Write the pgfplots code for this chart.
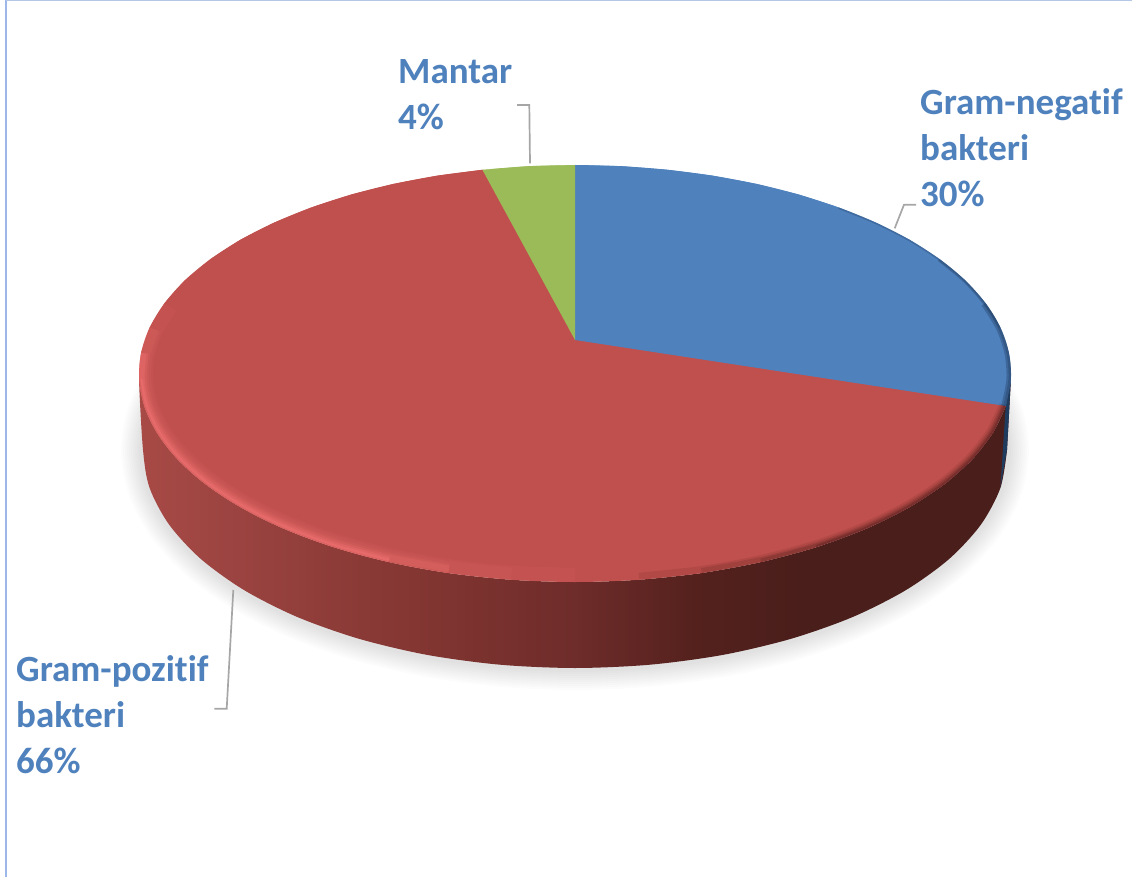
\documentclass[border=0pt]{standalone}
\usepackage{pgfplots}
\usepackage{pgfplotstable}
\usepackage{fontspec}
\pgfplotsset{compat=1.18}
\setmainfont[Ligatures=NoCommon]{Carlito}

\definecolor{sliceblue}{HTML}{4F81BD}
\definecolor{slicered}{HTML}{C0504D}
\definecolor{slicegreen}{HTML}{9BBB59}
\definecolor{labelblue}{HTML}{4F81BD}
\definecolor{leader}{HTML}{A6A6A6}
\definecolor{rimlight}{HTML}{F87878}
\definecolor{rimdark}{HTML}{3A1412}
\definecolor{rimblue}{HTML}{1F3B5E}
\definecolor{frameleft}{HTML}{9DB7EA}
\definecolor{frametop}{HTML}{B4C7E7}
\definecolor{wallA}{HTML}{A84A46}
\definecolor{wallB}{HTML}{9C4441}
\definecolor{wallC}{HTML}{853733}
\definecolor{wallD}{HTML}{6E2C2A}
\definecolor{wallE}{HTML}{54211D}
\definecolor{wallF}{HTML}{4A1E1B}

% Side wall: the middle half of the shading spans the wall's width
\pgfdeclarehorizontalshading{piewall}{100bp}{
  color(0bp)=(wallA); color(25bp)=(wallA); color(30bp)=(wallB);
  color(40bp)=(wallC); color(50bp)=(wallD); color(57bp)=(wallE);
  color(63bp)=(wallF); color(100bp)=(wallF)}

% Rim of the pie's top face, one row per 2 percent of the circle, clockwise from 12 o'clock
\pgfplotstableread{
pct x y
0 575.0 165.0
2 621.5 166.2
4 667.6 169.8
6 712.8 175.7
8 756.8 184.0
10 798.9 194.6
12 838.7 207.5
14 875.8 222.6
16 909.6 239.8
18 939.5 259.1
20 965.0 280.2
22 985.4 303.1
24 1000.3 327.4
26 1008.9 352.9
28 1010.9 379.2
30 1005.7 406.0
32 993.0 432.8
34 972.6 459.1
36 944.5 484.2
38 908.7 507.7
40 865.8 528.9
42 816.3 547.2
44 761.3 562.0
46 701.8 573.0
48 639.2 579.7
50 575.0 582.0
52 510.8 579.7
54 448.2 573.0
56 388.7 562.0
58 333.7 547.2
60 284.2 528.9
62 241.3 507.7
64 205.5 484.2
66 177.4 459.1
68 157.0 432.8
70 144.3 406.0
72 139.1 379.2
74 141.1 352.9
76 149.7 327.4
78 164.6 303.1
80 185.0 280.2
82 210.5 259.1
84 240.4 239.8
86 274.2 222.6
88 311.3 207.5
90 351.1 194.6
92 393.2 184.0
94 437.2 175.7
96 482.4 169.8
98 528.5 166.2
100 575.0 165.0
}\rimdata

% Gram-negatif bakteri: 30 percent
\pgfplotstableread{
x y
575.0 340.0
575.0 165.0
621.5 166.2
667.6 169.8
712.8 175.7
756.8 184.0
798.9 194.6
838.7 207.5
875.8 222.6
909.6 239.8
939.5 259.1
965.0 280.2
985.4 303.1
1000.3 327.4
1008.9 352.9
1010.9 379.2
1005.7 406.0
}\sliceone

% Gram-pozitif bakteri: 66 percent
\pgfplotstableread{
x y
575.0 340.0
1005.7 406.0
993.0 432.8
972.6 459.1
944.5 484.2
908.7 507.7
865.8 528.9
816.3 547.2
761.3 562.0
701.8 573.0
639.2 579.7
575.0 582.0
510.8 579.7
448.2 573.0
388.7 562.0
333.7 547.2
284.2 528.9
241.3 507.7
205.5 484.2
177.4 459.1
157.0 432.8
144.3 406.0
139.1 379.2
141.1 352.9
149.7 327.4
164.6 303.1
185.0 280.2
210.5 259.1
240.4 239.8
274.2 222.6
311.3 207.5
351.1 194.6
393.2 184.0
437.2 175.7
482.4 169.8
}\slicetwo

% Mantar: 4 percent
\pgfplotstableread{
x y
575.0 340.0
482.4 169.8
528.5 166.2
575.0 165.0
}\slicethree

% Side wall: front rim, then the lower edge of the disc
\pgfplotstableread{
x y
1010.9 379.2
1005.7 406.0
993.0 432.8
972.6 459.1
944.5 484.2
908.7 507.7
865.8 528.9
816.3 547.2
761.3 562.0
701.8 573.0
639.2 579.7
575.0 582.0
510.8 579.7
448.2 573.0
388.7 562.0
333.7 547.2
284.2 528.9
241.3 507.7
205.5 484.2
177.4 459.1
157.0 432.8
144.3 406.0
139.1 379.2
143.0 450.0
149.6 487.9
169.1 524.6
200.9 559.0
244.1 590.1
297.3 617.0
359.0 638.8
427.2 654.9
500.0 664.7
575.0 668.0
650.0 664.7
722.8 654.9
791.0 638.8
852.7 617.0
905.9 590.1
949.1 559.0
980.9 524.6
1000.4 487.9
1007.0 450.0
}\walldata

% Lower edge of the disc, for the soft cast shadow
\pgfplotstableread{
x y
169.1 375.4
149.6 412.1
143.0 450.0
149.6 487.9
169.1 524.6
200.9 559.0
244.1 590.1
297.3 617.0
359.0 638.8
427.2 654.9
500.0 664.7
575.0 668.0
650.0 664.7
722.8 654.9
791.0 638.8
852.7 617.0
905.9 590.1
949.1 559.0
980.9 524.6
1000.4 487.9
1007.0 450.0
1000.4 412.1
980.9 375.4
}\shadowdata

% Strip of the side wall that belongs to the blue slice
\pgfplotstableread{
x y
1010.9 379.2
1005.7 406.0
1000.4 487.9
1007.0 450.0
}\bluewall

% Part of the rim: options, first row, row after the last
\newcommand{\rimstroke}[3]{%
  \addplot[mark=none,smooth,line join=round,#1] table[x=x,y=y,
    skip coords between index={0}{#2},
    skip coords between index={#3}{51}] {\rimdata};}
\newcommand{\shadowstroke}[1]{%
  \addplot[mark=none,smooth,line join=round,draw=black,opacity=0.012,line width=#1pt]
    table[x=x,y=y] {\shadowdata};}

\pgfplotsset{pieframe/.style={
  scale only axis, width=1132pt, height=877pt,
  xmin=0, xmax=1132, ymin=0, ymax=877, y dir=reverse,
  hide axis, clip=true}}

\begin{document}
\begin{tikzpicture}
\begin{axis}[pieframe]
  % cast shadow
  \shadowstroke{44}\shadowstroke{40}\shadowstroke{36}\shadowstroke{32}
  \shadowstroke{28}\shadowstroke{24}\shadowstroke{20}\shadowstroke{16}
  \shadowstroke{12}\shadowstroke{8}

  % side wall
  \addplot[mark=none,smooth,draw=none,shade,shading=piewall] table[x=x,y=y] {\walldata};
  \addplot[mark=none,draw=none,fill=rimblue] table[x=x,y=y] {\bluewall};

  % top face: wedge outlines, each with its curved rim over the chords
  \addplot[mark=none,draw=none,fill=slicered] table[x=x,y=y] {\slicetwo};
  \rimstroke{draw=none,fill=slicered}{15}{49}
  \addplot[mark=none,draw=none,fill=sliceblue] table[x=x,y=y] {\sliceone};
  \rimstroke{draw=none,fill=sliceblue}{0}{16}
  \addplot[mark=none,draw=none,fill=slicegreen] table[x=x,y=y] {\slicethree};
  \rimstroke{draw=none,fill=slicegreen}{48}{51}

  % leader lines
  \addplot[mark=none,draw=leader,line width=1.7pt] coordinates {(517,105) (529.3,105) (530,163.3)};
  \addplot[mark=none,draw=leader,line width=1.7pt] coordinates {(916,204.7) (904,204.7) (894.7,228.3)};
  \addplot[mark=none,draw=leader,line width=1.7pt] coordinates {(233.3,590) (226.7,708.7) (214.3,708.7)};

  % labels
  \tikzset{pielabel/.style={anchor=north west,inner sep=0pt,align=left,text=labelblue,
    font=\fontsize{37}{46}\selectfont\bfseries}}
  \node[pielabel] at (axis cs:398,59.5) {Mantar\\4\%};
  \node[pielabel] at (axis cs:920,88) {Gram-negatif\\bakteri\\30\%};
  \node[pielabel] at (axis cs:16,655) {Gram-pozitif\\bakteri\\66\%};

  % frame
  \addplot[mark=none,draw=frameleft,line width=2pt] coordinates {(6,0) (6,877)};
  \addplot[mark=none,draw=frametop,line width=2pt] coordinates {(6,0) (1132,0)};
\end{axis}

% bevel of the top face, kept inside the rim
\begin{axis}[pieframe]
  \clip (axis cs:575,373.5) ellipse [x radius=436pt, y radius=208.5pt];
  \rimstroke{draw=rimlight,opacity=.07,line width=28pt}{25}{40}
  \rimstroke{draw=rimlight,opacity=.09,line width=24pt}{26}{39}
  \rimstroke{draw=rimlight,opacity=.13,line width=19pt}{27}{39}
  \rimstroke{draw=rimlight,opacity=.18,line width=15pt}{27}{38}
  \rimstroke{draw=rimlight,opacity=.25,line width=11pt}{28}{38}
  \rimstroke{draw=rimlight,opacity=.32,line width=7pt}{28}{37}
  \rimstroke{draw=slicered,opacity=.30,line width=2pt}{27}{37}
  \rimstroke{draw=rimdark,opacity=.10,line width=14pt}{15}{25}
  \rimstroke{draw=rimdark,opacity=.14,line width=10pt}{15}{24}
  \rimstroke{draw=rimdark,opacity=.20,line width=7pt}{15}{23}
  \rimstroke{draw=rimdark,opacity=.25,line width=4pt}{15}{22}
  \rimstroke{draw=rimblue,opacity=.30,line width=3pt}{6}{13}
  \rimstroke{draw=rimblue,opacity=.35,line width=5pt}{9}{16}
  \rimstroke{draw=rimblue,opacity=.35,line width=9pt}{11}{16}
\end{axis}
\pgfresetboundingbox
\useasboundingbox (0,0) rectangle (1132pt,877pt);
\end{tikzpicture}
\end{document}
